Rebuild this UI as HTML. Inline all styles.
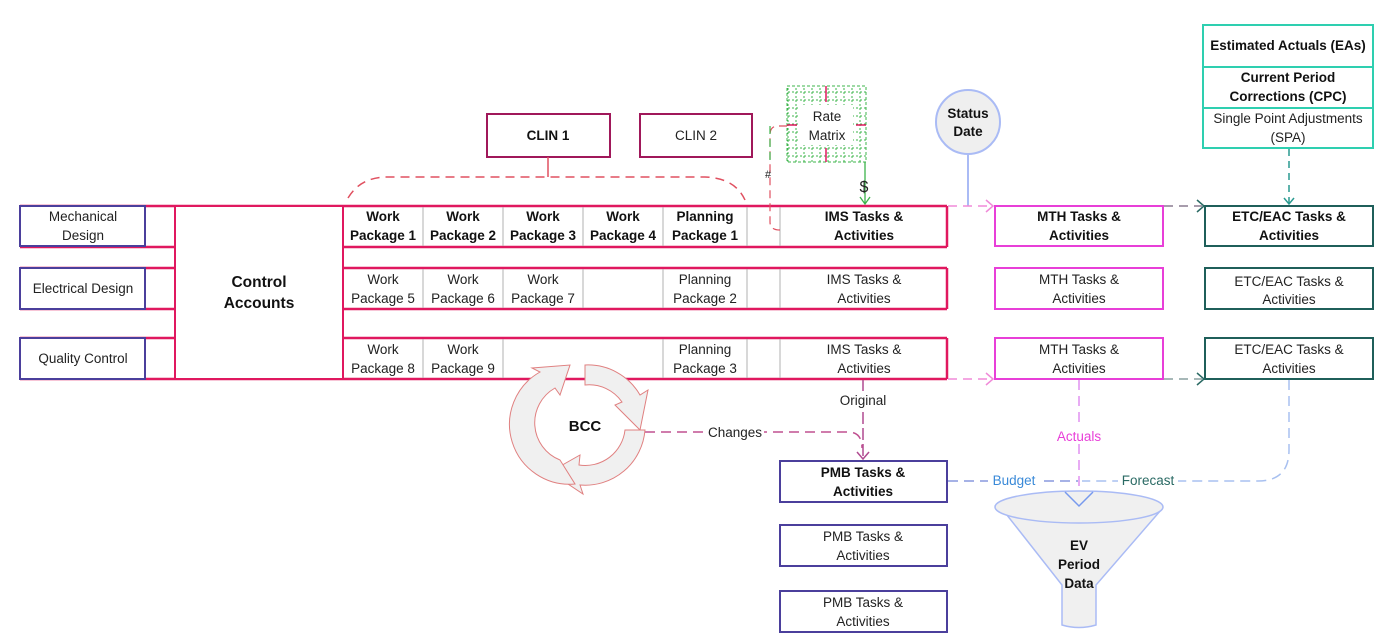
<!DOCTYPE html>
<html><head><meta charset="utf-8"><style>
html,body{margin:0;padding:0;background:#fff;}
svg{display:block;font-family:"Liberation Sans",sans-serif;}
text{font-size:13.5px;fill:#222;text-anchor:middle;}
.b{font-weight:bold;fill:#111;}
</style></head><body>
<svg width="1386" height="643" viewBox="0 0 1386 643" xmlns="http://www.w3.org/2000/svg">
<defs>
<pattern id="grid" width="8" height="8" patternUnits="userSpaceOnUse"><path d="M0 4H8M4 0V8" stroke="#3cb44b" stroke-width="1" stroke-dasharray="2,2" fill="none"/></pattern>
</defs>
<!-- crimson band -->
<g stroke="#e0185f" fill="none">
<line x1="20" y1="206" x2="947" y2="206" stroke-width="2.5"/>
<line x1="20" y1="379" x2="947" y2="379" stroke-width="2.5"/>
<line x1="20" y1="247" x2="947" y2="247" stroke-width="2.5"/>
<line x1="20" y1="268" x2="947" y2="268" stroke-width="2.5"/>
<line x1="20" y1="309" x2="947" y2="309" stroke-width="2.5"/>
<line x1="20" y1="338" x2="947" y2="338" stroke-width="2.5"/>
<line x1="175" y1="206" x2="175" y2="379" stroke-width="2"/>
<line x1="343" y1="206" x2="343" y2="379" stroke-width="2"/>
<line x1="947" y1="206" x2="947" y2="247" stroke-width="2.5"/>
<line x1="947" y1="268" x2="947" y2="309" stroke-width="2.5"/>
<line x1="947" y1="338" x2="947" y2="379" stroke-width="2.5"/>
</g>
<rect x="176" y="207" width="166" height="171" fill="#fff"/>
<!-- gray dividers -->
<g stroke="#b0b0b0" stroke-width="1">
<path d="M423 207V246M503 207V246M583 207V246M663 207V246M747 207V246M780 207V246"/>
<path d="M423 269V308M503 269V308M583 269V308M663 269V308M747 269V308M780 269V308"/>
<path d="M423 339V378M503 339V378M663 339V378M747 339V378M780 339V378"/>
</g>
<!-- left boxes -->
<g stroke="#4b3f9c" stroke-width="2" fill="#fff">
<rect x="20" y="206" width="125" height="40"/>
<rect x="20" y="268" width="125" height="41"/>
<rect x="20" y="338" width="125" height="41"/>
</g>
<text x="83" y="221">Mechanical</text><text x="83" y="240">Design</text>
<text x="83" y="293">Electrical Design</text>
<text x="83" y="363">Quality Control</text>
<text x="259" y="287" class="b" style="font-size:15.5px">Control</text>
<text x="259" y="308" class="b" style="font-size:15.5px">Accounts</text>
<!-- row1 -->
<g class="b">
<text x="383" y="221" class="b">Work</text><text x="383" y="240" class="b">Package 1</text>
<text x="463" y="221" class="b">Work</text><text x="463" y="240" class="b">Package 2</text>
<text x="543" y="221" class="b">Work</text><text x="543" y="240" class="b">Package 3</text>
<text x="623" y="221" class="b">Work</text><text x="623" y="240" class="b">Package 4</text>
<text x="705" y="221" class="b">Planning</text><text x="705" y="240" class="b">Package 1</text>
<text x="864" y="221" class="b">IMS Tasks &amp;</text><text x="864" y="240" class="b">Activities</text>
</g>
<text x="383" y="284">Work</text><text x="383" y="303">Package 5</text>
<text x="463" y="284">Work</text><text x="463" y="303">Package 6</text>
<text x="543" y="284">Work</text><text x="543" y="303">Package 7</text>
<text x="705" y="284">Planning</text><text x="705" y="303">Package 2</text>
<text x="864" y="284">IMS Tasks &amp;</text><text x="864" y="303">Activities</text>
<text x="383" y="354">Work</text><text x="383" y="373">Package 8</text>
<text x="463" y="354">Work</text><text x="463" y="373">Package 9</text>
<text x="705" y="354">Planning</text><text x="705" y="373">Package 3</text>
<text x="864" y="354">IMS Tasks &amp;</text><text x="864" y="373">Activities</text>
<!-- MTH -->
<g stroke="#e83fd8" stroke-width="2" fill="#fff">
<rect x="995" y="206" width="168" height="40"/><rect x="995" y="268" width="168" height="41"/><rect x="995" y="338" width="168" height="41"/>
</g>
<text x="1079" y="221" class="b">MTH Tasks &amp;</text><text x="1079" y="240" class="b">Activities</text>
<text x="1079" y="284">MTH Tasks &amp;</text><text x="1079" y="303">Activities</text>
<text x="1079" y="354">MTH Tasks &amp;</text><text x="1079" y="373">Activities</text>
<!-- ETC -->
<g stroke="#1f5f5a" stroke-width="2" fill="#fff">
<rect x="1205" y="206" width="168" height="40"/><rect x="1205" y="268" width="168" height="41"/><rect x="1205" y="338" width="168" height="41"/>
</g>
<text x="1289" y="221" class="b">ETC/EAC Tasks &amp;</text><text x="1289" y="240" class="b">Activities</text>
<text x="1289" y="286">ETC/EAC Tasks &amp;</text><text x="1289" y="304">Activities</text>
<text x="1289" y="354">ETC/EAC Tasks &amp;</text><text x="1289" y="373">Activities</text>
<!-- top stack -->
<g stroke="#2ecfb0" stroke-width="2" fill="#fff">
<rect x="1203" y="25" width="170" height="123"/>
<line x1="1203" y1="67" x2="1373" y2="67"/><line x1="1203" y1="108" x2="1373" y2="108"/>
</g>
<text x="1288" y="50" class="b">Estimated Actuals (EAs)</text>
<text x="1288" y="82" class="b">Current Period</text><text x="1288" y="101" class="b">Corrections (CPC)</text>
<text x="1288" y="123">Single Point Adjustments</text><text x="1288" y="142">(SPA)</text>
<!-- CLIN -->
<g stroke="#a0185a" stroke-width="2" fill="#fff">
<rect x="487" y="114" width="123" height="43"/><rect x="640" y="114" width="112" height="43"/>
</g>
<text x="548" y="140" class="b">CLIN 1</text><text x="696" y="140">CLIN 2</text>
<g stroke="#e05060" stroke-width="1.5" fill="none">
<path d="M348 198 Q360 178 385 177 H705 Q735 178 745 200" stroke-dasharray="9,6"/>
<line x1="548" y1="157" x2="548" y2="177"/>
</g>
<!-- Rate matrix -->
<rect x="787" y="86" width="79" height="76" fill="url(#grid)" stroke="#3cb44b" stroke-dasharray="3,2"/>
<rect x="800" y="105" width="53" height="40" fill="#fff"/>
<g stroke="#e0185f" stroke-width="1.5"><path d="M826 86V102M826 148V162M787 125H797M856 125H866"/></g>
<text x="827" y="121">Rate</text><text x="827" y="140">Matrix</text>
<path d="M787 126 H778 Q770 126 770 135 V222 Q770 230 780 230" stroke="#e05060" stroke-dasharray="8,5" fill="none" stroke-width="1.2"/>
<path d="M770 126 V160" stroke="#3cb44b" stroke-dasharray="8,5" fill="none" stroke-width="1.2"/>
<text x="768" y="178" style="font-size:11px">#</text>
<path d="M865 162 V203 M860 197 L865 204 L870 197" stroke="#3cb44b" fill="none" stroke-width="1.3"/>
<text x="864" y="192" style="font-size:16px">$</text>
<!-- status date -->
<circle cx="968" cy="122" r="32" fill="#efefef" stroke="#aabbf5" stroke-width="2"/>
<text x="968" y="118" class="b">Status</text><text x="968" y="136" class="b">Date</text>
<line x1="968" y1="154" x2="968" y2="206" stroke="#aabbf5" stroke-width="2"/>
<!-- connectors -->
<g fill="none" stroke-width="1.5">
<path d="M948 206 H990" stroke="#f08ad8" stroke-dasharray="9,6"/><path d="M986 200 L993 206 L986 212" stroke="#f08ad8"/>
<path d="M948 379 H990" stroke="#f08ad8" stroke-dasharray="9,6"/><path d="M986 373 L993 379 L986 385" stroke="#f08ad8"/>
<path d="M1164 206 H1202" stroke="#8a7c90" stroke-dasharray="9,6"/><path d="M1197 200 L1204 206 L1197 212" stroke="#2a6a64"/>
<path d="M1164 379 H1202" stroke="#8aa0a0" stroke-dasharray="9,6"/><path d="M1197 373 L1204 379 L1197 385" stroke="#2a6a64"/>
<path d="M1289 149 V203" stroke="#2a9a90" stroke-dasharray="7,5"/><path d="M1284 198 L1289 204 L1294 198" stroke="#2a9a90"/>
<path d="M863 380 V458" stroke="#b04a90" stroke-dasharray="12,4"/><path d="M857 452 L863 459 L869 452" stroke="#b04a90"/>
<path d="M645 432 H848 Q862 432 862 448" stroke="#c05090" stroke-dasharray="10,6"/>
<path d="M1079 380 V488" stroke="#e090f0" stroke-dasharray="10,6"/>
<path d="M948 481 H1078" stroke="#8899dd" stroke-dasharray="10,6"/>
<path d="M1289 380 V450 Q1289 481 1258 481 H1082" stroke="#a8c0f0" stroke-dasharray="10,6"/>
</g>
<rect x="834" y="391" width="58" height="17" fill="#fff"/><text x="863" y="405">Original</text>
<rect x="706" y="424" width="58" height="17" fill="#fff"/><text x="735" y="437">Changes</text>
<rect x="1052" y="427" width="54" height="17" fill="#fff"/><text x="1079" y="441" style="fill:#e83fd8">Actuals</text>
<rect x="988" y="472" width="52" height="17" fill="#fff"/><text x="1014" y="485" style="fill:#3a8ad8">Budget</text>
<rect x="1118" y="472" width="60" height="17" fill="#fff"/><text x="1148" y="485" style="fill:#2a6a64">Forecast</text>
<!-- PMB -->
<g stroke="#4b3f9c" stroke-width="2" fill="#fff">
<rect x="780" y="461" width="167" height="41"/><rect x="780" y="525" width="167" height="41"/><rect x="780" y="591" width="167" height="41"/>
</g>
<text x="863" y="477" class="b">PMB Tasks &amp;</text><text x="863" y="496" class="b">Activities</text>
<text x="863" y="541">PMB Tasks &amp;</text><text x="863" y="560">Activities</text>
<text x="863" y="607">PMB Tasks &amp;</text><text x="863" y="626">Activities</text>
<!-- funnel -->
<path d="M1003 510 L1062 585 V625 Q1079 630 1096 625 V585 L1161 510 Z" fill="#f0f0f0" stroke="#aabbf5" stroke-width="1.5"/>
<ellipse cx="1079" cy="507" rx="84" ry="16" fill="#f0f0f0" stroke="#aabbf5" stroke-width="1.5"/>
<path d="M1065 492 L1079 506 L1093 492" fill="none" stroke="#7799ee" stroke-width="1.5"/>
<text x="1079" y="550" class="b">EV</text><text x="1079" y="569" class="b">Period</text><text x="1079" y="588" class="b">Data</text>
<!-- BCC -->
<g fill="#f0f0f0" stroke="#e08080" stroke-width="1">
<path d="M585 365 A60 60 0 0 1 640 395 L648 390 L640 430 L615 405 L622 402 A40 40 0 0 0 585 385 Z"/>
<path d="M645 430 A60 60 0 0 1 580 485 L583 494 L550 472 L580 455 L579 465 A40 40 0 0 0 625 430 Z"/>
<path d="M575 484 A60 60 0 0 1 540 372 L532 368 L570 365 L560 395 L555 388 A40 40 0 0 0 560 460 Z"/>
</g>
<text x="585" y="431" class="b" style="font-size:15px">BCC</text>
</svg>
</body></html>
